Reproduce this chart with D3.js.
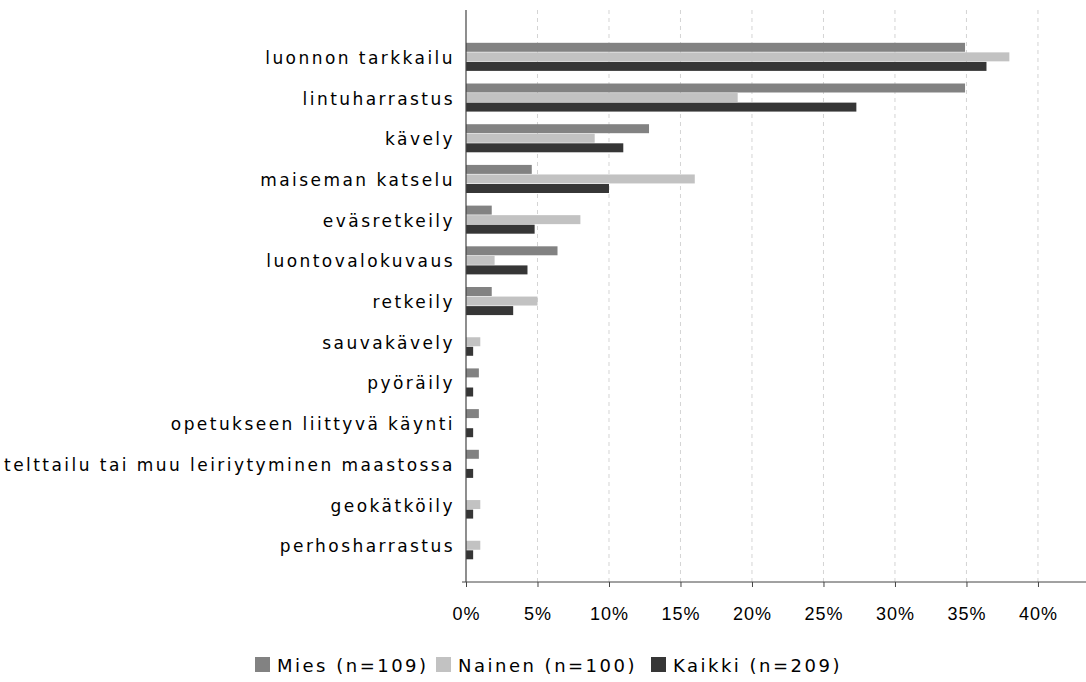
<!DOCTYPE html>
<html>
<head>
<meta charset="utf-8">
<script src="https://cdn.jsdelivr.net/npm/d3@7"></script>
<style>
  html, body { margin: 0; padding: 0; background: #fff; }
  svg { display: block; }
</style>
</head>
<body>
<svg id="chart" width="1086" height="682"></svg>
<script>
const categories = [
  "luonnon tarkkailu", "lintuharrastus", "kävely", "maiseman katselu",
  "eväsretkeily", "luontovalokuvaus", "retkeily", "sauvakävely", "pyöräily",
  "opetukseen liittyvä käynti", "telttailu tai muu leiriytyminen maastossa",
  "geokätköily", "perhosharrastus"
];
const seriesNames = ["Mies (n=109)", "Nainen (n=100)", "Kaikki (n=209)"];
const mies   = [34.9, 34.9, 12.8, 4.6, 1.8, 6.4, 1.8, 0, 0.9, 0.9, 0.9, 0, 0];
const nainen = [38.0, 19.0, 9.0, 16.0, 8.0, 2.0, 5.0, 1.0, 0, 0, 0, 1.0, 1.0];
const kaikki = [36.4, 27.3, 11.0, 10.0, 4.8, 4.3, 3.3, 0.5, 0.5, 0.5, 0.5, 0.5, 0.5];
const tickValues = [0, 5, 10, 15, 20, 25, 30, 35, 40];
const colors = ["#828282", "#c2c2c2", "#363636"];

const svg = d3.select("#chart");
const x = d3.scaleLinear().domain([0, 43.36]).range([466, 1086]);
const y = d3.scaleBand().domain(categories).range([36.5, 565.6]).paddingInner(0.31).paddingOuter(0.155);
const ySub = d3.scaleBand().domain(seriesNames).range([0, y.bandwidth()]).paddingInner(0.06);

const data = categories.map((c, i) => ({ cat: c, vals: [mies[i], nainen[i], kaikki[i]] }));

// grid lines
svg.append("g").selectAll("line").data(tickValues.filter(d => d > 0)).join("line")
  .attr("x1", d => x(d)).attr("x2", d => x(d))
  .attr("y1", 10).attr("y2", 582)
  .attr("stroke", "#d4d4d4").attr("stroke-width", 1).attr("stroke-dasharray", "4,4");

// bars
const groups = svg.append("g").selectAll("g").data(data).join("g")
  .attr("transform", d => `translate(0,${y(d.cat)})`);
groups.selectAll("rect").data(d => d.vals.map((v, k) => ({ v, k }))).join("rect")
  .attr("x", x(0))
  .attr("y", d => ySub(seriesNames[d.k]))
  .attr("width", d => x(d.v) - x(0))
  .attr("height", ySub.bandwidth())
  .attr("fill", d => colors[d.k]);

// category labels
svg.append("g").selectAll("text").data(categories).join("text")
  .attr("x", 455)
  .attr("y", d => y(d) + y.bandwidth() / 2 + 1)
  .attr("dy", "0.35em")
  .attr("text-anchor", "end")
  .attr("font-family", "DejaVu Sans")
  .attr("font-size", 17)
  .attr("letter-spacing", "2.45px")
  .attr("fill", "#000")
  .text(d => d);

// y axis line
svg.append("line").attr("x1", 466).attr("x2", 466).attr("y1", 10).attr("y2", 582)
  .attr("stroke", "#444").attr("stroke-width", 1.2);

// x axis
const xAxis = d3.axisBottom(x).tickValues(tickValues).tickFormat(d => d + "%").tickSize(5).tickSizeOuter(0);
const gx = svg.append("g").attr("transform", "translate(0,582)").call(xAxis);
gx.select(".domain").attr("stroke", "#444").attr("d", "M462,0H1086");
gx.selectAll(".tick line").attr("stroke", "#444");
gx.selectAll(".tick text").attr("font-family", "Liberation Sans, Arial, sans-serif")
  .attr("font-size", 18).attr("letter-spacing", "1px").attr("fill", "#000")
  .attr("y", 0).attr("dy", 0).attr("transform", "translate(0,38)");

// legend
const legendX = [255, 436, 651];
const lg = svg.append("g").selectAll("g").data(seriesNames).join("g")
  .attr("transform", (d, i) => `translate(${legendX[i]},657)`);
lg.append("rect").attr("width", 15).attr("height", 15).attr("fill", (d, i) => colors[i]);
lg.append("text").attr("x", 22).attr("y", 15)
  .attr("font-family", "DejaVu Sans").attr("font-size", 18).attr("letter-spacing", "2.5px")
  .attr("fill", "#000").text(d => d);
</script>
</body>
</html>
